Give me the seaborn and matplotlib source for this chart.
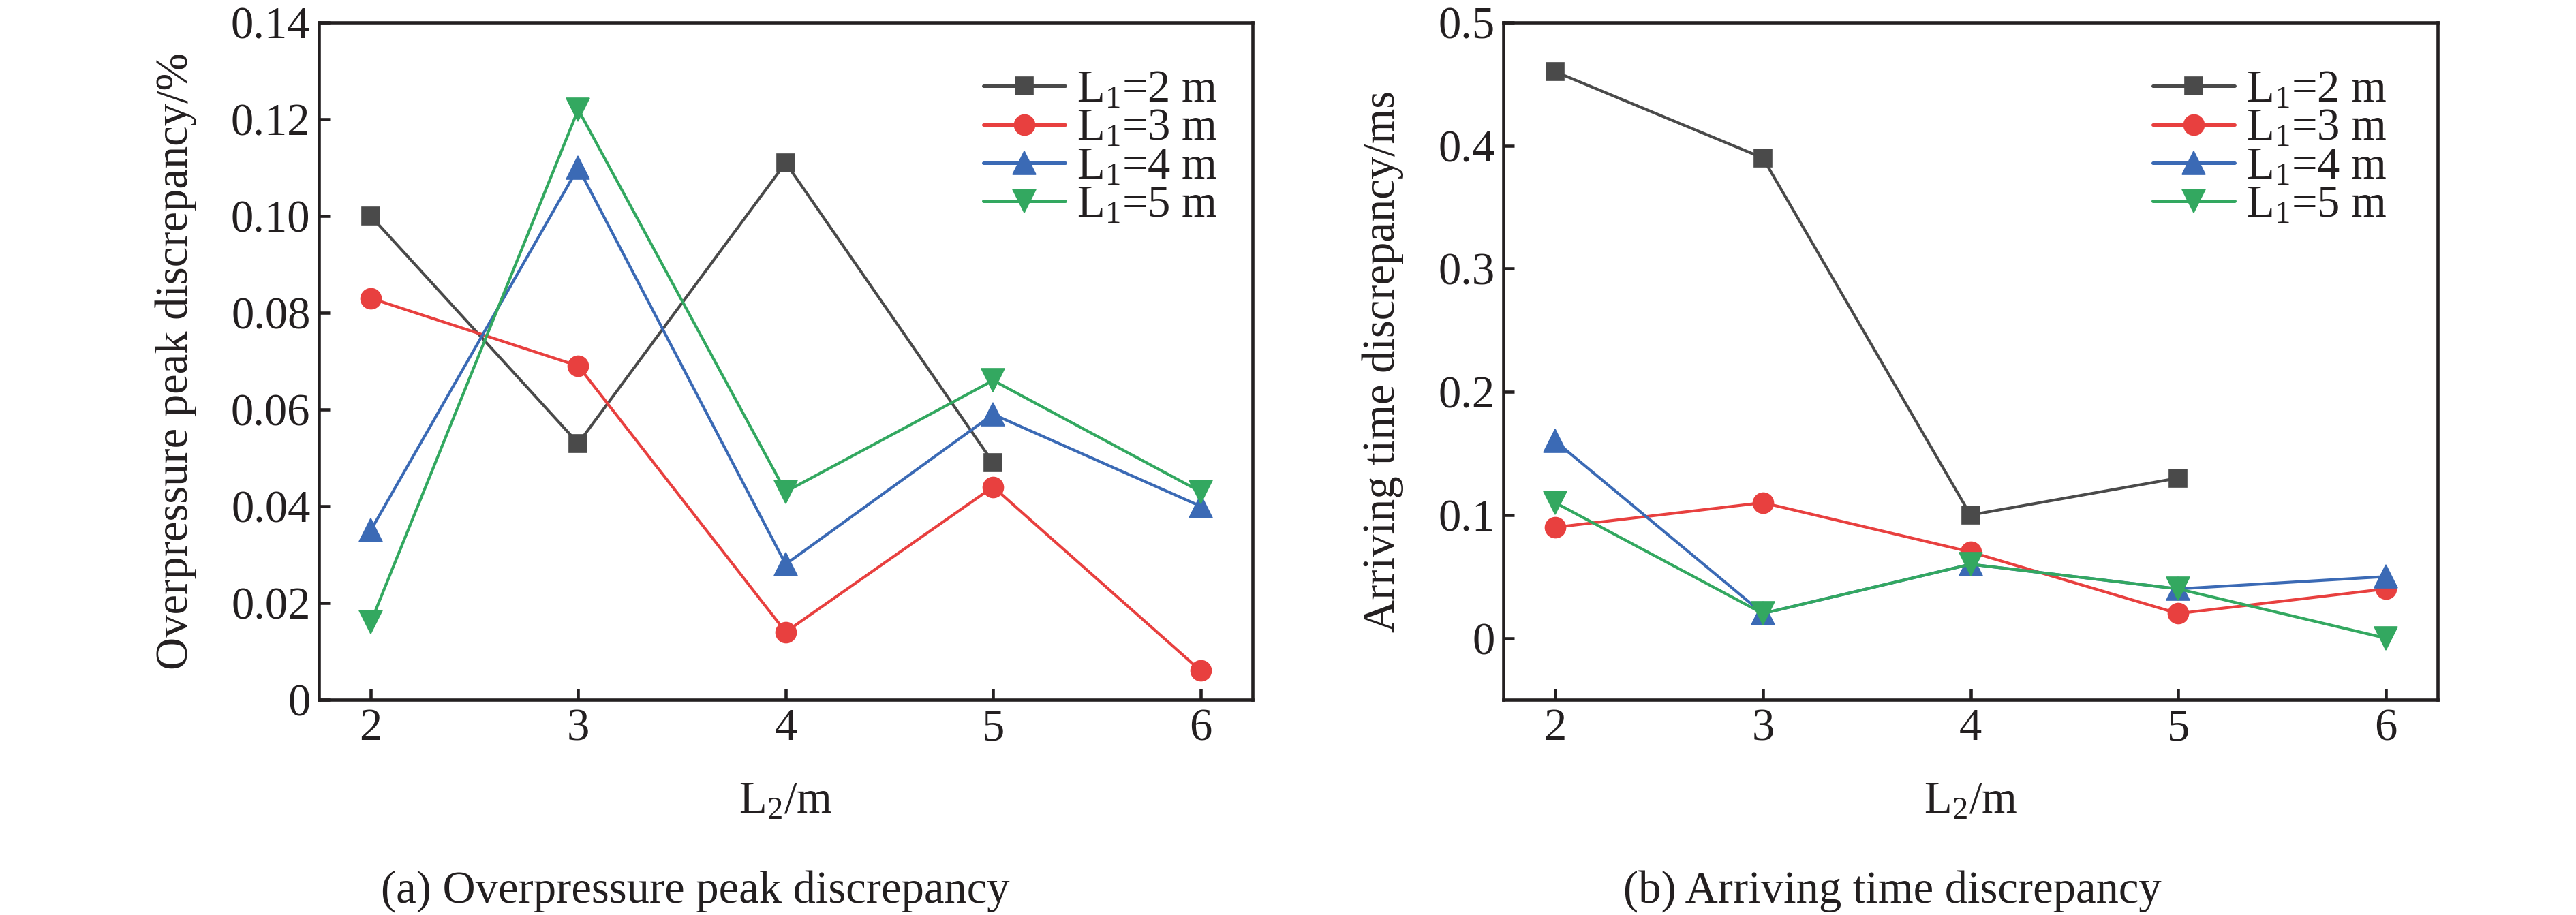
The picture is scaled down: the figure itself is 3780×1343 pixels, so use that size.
import numpy as np
import pandas as pd
import seaborn as sns
import matplotlib.pyplot as plt

sns.set_theme(style="ticks")
plt.rcParams['font.family'] = ['Liberation Serif', 'DejaVu Serif']
plt.rcParams['mathtext.fontset'] = 'custom'
plt.rcParams['mathtext.rm'] = 'Liberation Serif'
plt.rcParams['mathtext.default'] = 'regular'

ink = '#231f20'

# data
l2 = [2, 3, 4, 5, 6]
series = ['L$_1$=2 m', 'L$_1$=3 m', 'L$_1$=4 m', 'L$_1$=5 m']

# (a) overpressure peak discrepancy, %
peak_l1_2 = [0.100, 0.053, 0.111, 0.049, np.nan]
peak_l1_3 = [0.083, 0.069, 0.014, 0.044, 0.006]
peak_l1_4 = [0.035, 0.110, 0.028, 0.059, 0.040]
peak_l1_5 = [0.016, 0.122, 0.043, 0.066, 0.043]

# (b) arriving time discrepancy, ms
time_l1_2 = [0.46, 0.39, 0.10, 0.13, np.nan]
time_l1_3 = [0.09, 0.11, 0.07, 0.02, 0.04]
time_l1_4 = [0.16, 0.02, 0.06, 0.04, 0.05]
time_l1_5 = [0.11, 0.02, 0.06, 0.04, 0.00]

x_ticks = [2, 3, 4, 5, 6]
peak_ticks = [0, 0.02, 0.04, 0.06, 0.08, 0.10, 0.12, 0.14]
peak_tick_labels = ['0', '0.02', '0.04', '0.06', '0.08', '0.10', '0.12', '0.14']
time_ticks = [0, 0.1, 0.2, 0.3, 0.4, 0.5]
time_tick_labels = ['0', '0.1', '0.2', '0.3', '0.4', '0.5']

colors = ['#4a4a4a', '#e8403f', '#3b6ab5', '#33a860']
markers = ['s', 'o', '^', 'v']
msizes = {'s': 6.2, 'o': 7.2, '^': 8.2, 'v': 8.2}


def long_frame(cols):
    rows = []
    for name, vals in zip(series, cols):
        for x, v in zip(l2, vals):
            if not np.isnan(v):
                rows.append({'L2': x, 'value': v, 'series': name})
    return pd.DataFrame(rows)


df_peak = long_frame([peak_l1_2, peak_l1_3, peak_l1_4, peak_l1_5])
df_time = long_frame([time_l1_2, time_l1_3, time_l1_4, time_l1_5])

fig = plt.figure(figsize=(12.6, 4.4767), dpi=300)
ax_a = fig.add_axes([0.1238, 0.2353, 0.3624, 0.7401])
ax_b = fig.add_axes([0.5836, 0.2353, 0.3627, 0.7401])

fs = 16


def draw(ax, df, ylabel, yticks, ylabels, ylim, leg_x):
    sns.lineplot(
        data=df, x='L2', y='value', hue='series', style='series',
        hue_order=series, style_order=series,
        palette=colors, markers=dict(zip(series, markers)), dashes=False,
        linewidth=1.0, markersize=7, errorbar=None, ax=ax
    )
    for line in ax.lines:
        line.set_markeredgecolor(line.get_color())
        line.set_markeredgewidth(0.4)
        m = line.get_marker()
        if m in msizes:
            line.set_markersize(msizes[m])

    handles, labels = ax.get_legend_handles_labels()
    leg = ax.legend(
        handles, labels, loc='upper left', bbox_to_anchor=(leg_x, 0.93),
        frameon=False, handlelength=1.8, handletextpad=0.25,
        labelspacing=-0.07, borderpad=0, borderaxespad=0, fontsize=fs
    )
    for h in leg.get_lines():
        h.set_markeredgecolor(h.get_color())
        h.set_markeredgewidth(0.4)
        h.set_linewidth(1.2)
        m = h.get_marker()
        if m in msizes:
            h.set_markersize(msizes[m])
    for t in leg.get_texts():
        t.set_color(ink)

    ax.set_xlim(1.75, 6.25)
    ax.set_ylim(*ylim)
    ax.set_xticks(x_ticks)
    ax.set_xticklabels([str(v) for v in x_ticks])
    ax.set_yticks(yticks)
    ax.set_yticklabels(ylabels)

    ax.set_xlabel('L$_2$/m', fontsize=fs, color=ink, labelpad=11)
    ax.set_ylabel(ylabel, fontsize=fs, color=ink, labelpad=12)

    ax.tick_params(direction='in', length=3.8, width=1.1, top=False, right=False,
                   pad=3, labelsize=fs, colors=ink)
    for sp in ax.spines.values():
        sp.set_visible(True)
        sp.set_linewidth(1.1)
        sp.set_color(ink)


draw(ax_a, df_peak, 'Overpressure peak discrepancy/%', peak_ticks, peak_tick_labels,
     (0, 0.14), 0.712)
draw(ax_b, df_time, 'Arriving time discrepancy/ms', time_ticks, time_tick_labels,
     (-0.05, 0.5), 0.695)

fig.text(0.2698, 0.0134, '(a) Overpressure peak discrepancy', ha='center',
         va='baseline', fontsize=fs, color=ink)
fig.text(0.7347, 0.0134, '(b) Arriving time discrepancy', ha='center',
         va='baseline', fontsize=fs, color=ink)

fig.savefig('out.png', dpi=300, facecolor='white')
